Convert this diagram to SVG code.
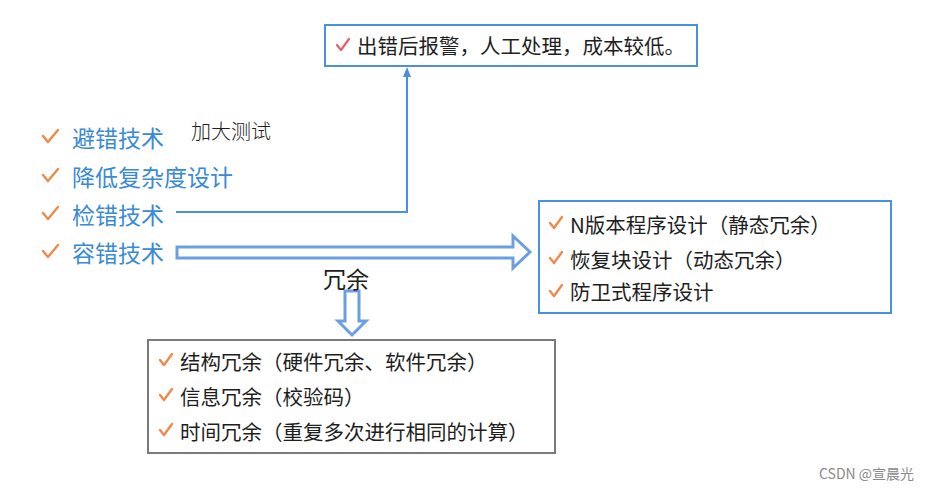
<svg xmlns="http://www.w3.org/2000/svg" width="935" height="491" viewBox="0 0 935 491">
<defs>
<style>
.t{font-family:"Noto Sans CJK SC","Noto Sans",sans-serif;}
.blue{fill:#3a8ad6;font-size:23px;}
.blk{fill:#1e1e1e;font-size:20.5px;}
.ck{fill:none;stroke:#f08a4b;stroke-width:2.4;stroke-linecap:round;stroke-linejoin:round;}
.ckp{fill:none;stroke:#e5606e;stroke-width:2.2;stroke-linecap:round;stroke-linejoin:round;}
.bbox{fill:#fff;stroke:#4a90dc;stroke-width:2;}
.gbox{fill:#fff;stroke:#7a7a7a;stroke-width:2;}
.hollow{fill:#fff;stroke:#6c9fe2;stroke-width:3;stroke-linejoin:miter;}
</style>
<marker id="ah" markerWidth="10" markerHeight="10" refX="5" refY="5" orient="auto" markerUnits="userSpaceOnUse">
<path d="M0,1 L10,5 L0,9 Z" fill="#4a90dc"/>
</marker>
</defs>
<rect width="935" height="491" fill="#fff"/>

<g id="connectors">
<path d="M176,212 H407 V72" fill="none" stroke="#4a90dc" stroke-width="2" marker-end="url(#ah)"/>
<polygon class="hollow" points="177,247 513,247 513,236 530,252 513,268 513,258 177,258"/>
<polygon class="hollow" points="345,291 359,291 359,321 366,321 352,335 338,321 345,321"/>
</g>

<g id="node-top">
<rect class="bbox" x="325" y="25" width="372" height="41"/>
<path class="ckp" d="M337,45 L341,50 L349,39"/>
<text class="t blk" x="357" y="53.5">出错后报警，人工处理，成本较低。</text>
</g>

<g id="node-left">
<path class="ck" d="M43,136 L48,142 L58,130"/>
<text class="t blue" x="72" y="146.5">避错技术</text>
<path class="ck" d="M43,175 L48,181 L58,169"/>
<text class="t blue" x="72" y="185.5">降低复杂度设计</text>
<path class="ck" d="M43,213 L48,219 L58,207"/>
<text class="t blue" x="72" y="223.5">检错技术</text>
<path class="ck" d="M43,251 L48,257 L58,245"/>
<text class="t blue" x="72" y="261.5">容错技术</text>
</g>

<g id="label-test">
<text class="t" x="191" y="138.5" font-size="20" fill="#1e1e1e" font-weight="300">加大测试</text>
</g>

<g id="label-redundancy">
<text class="t" x="323" y="287.5" font-size="23" fill="#1e1e1e">冗余</text>
</g>

<g id="node-right">
<rect class="bbox" x="539" y="201" width="352" height="112"/>
<path class="ck" d="M550,223 L554,228 L562,217"/>
<text class="t blk" x="570" y="232.5">N版本程序设计（静态冗余）</text>
<path class="ck" d="M550,258 L554,263 L562,252"/>
<text class="t blk" x="570" y="267.5">恢复块设计（动态冗余）</text>
<path class="ck" d="M550,291 L554,296 L562,285"/>
<text class="t blk" x="570" y="300">防卫式程序设计</text>
</g>

<g id="node-bottom">
<rect class="gbox" x="148" y="340" width="407" height="113"/>
<path class="ck" d="M160,360 L164,365 L172,354"/>
<text class="t blk" x="180" y="369.5">结构冗余（硬件冗余、软件冗余）</text>
<path class="ck" d="M160,395 L164,400 L172,389"/>
<text class="t blk" x="180" y="404.5">信息冗余（校验码）</text>
<path class="ck" d="M160,430 L164,435 L172,424"/>
<text class="t blk" x="180" y="439.5">时间冗余（重复多次进行相同的计算）</text>
</g>

<g id="watermark">
<text class="t" x="819" y="479" font-size="14" fill="#8a8a8a">CSDN @宣晨光</text>
</g>
</svg>
